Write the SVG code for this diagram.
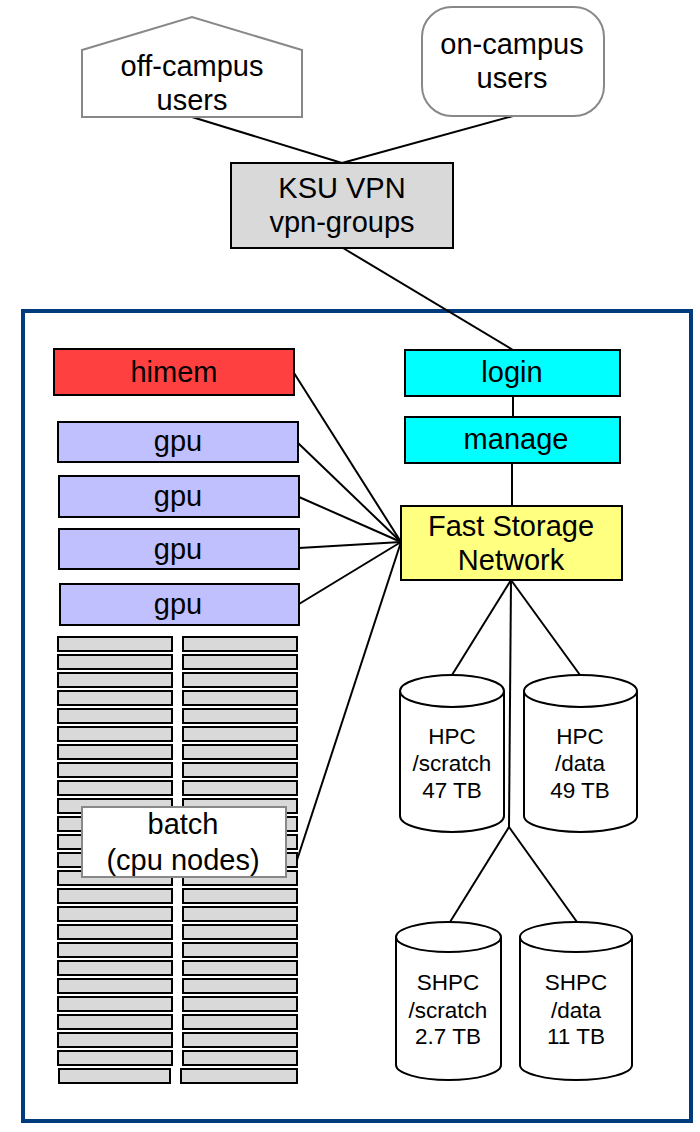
<svg xmlns="http://www.w3.org/2000/svg" width="700" height="1132" viewBox="0 0 700 1132">
<style>
text{font-family:"Liberation Sans",Arial,Helvetica,sans-serif;fill:#000;text-anchor:middle}
.big{font-size:29px}
.sm{font-size:22.5px}
.box{stroke:#000;stroke-width:2}
.gray{fill:#fff;stroke:#888;stroke-width:2}
.rack{fill:#d9d9d9;stroke:#000;stroke-width:2}
.cyl{fill:#fff;stroke:#000;stroke-width:2}
.conn line{stroke:#000;stroke-width:2;fill:none}
</style>
<rect width="700" height="1132" fill="#fff"/>
<rect id="cluster" x="23" y="311" width="668" height="810" fill="#fff" stroke="#003c7d" stroke-width="4"/>
<g id="connectors" class="conn">
<line x1="192" y1="117" x2="342" y2="163"/>
<line x1="513" y1="116" x2="342" y2="163"/>
<line x1="343" y1="248" x2="513" y2="350"/>
<line x1="513" y1="396" x2="513" y2="417"/>
<line x1="512" y1="463" x2="512" y2="506"/>
<line x1="294" y1="373" x2="401" y2="542"/>
<line x1="298" y1="443" x2="401" y2="542"/>
<line x1="299" y1="497" x2="401" y2="542"/>
<line x1="299" y1="548" x2="401" y2="542"/>
<line x1="299" y1="604" x2="401" y2="542"/>
<line x1="297" y1="860" x2="401" y2="542"/>
<line x1="511" y1="580" x2="452" y2="675"/>
<line x1="511" y1="580" x2="580" y2="675"/>
<line x1="511" y1="580" x2="509" y2="827"/>
<line x1="509" y1="827" x2="450" y2="922"/>
<line x1="509" y1="827" x2="577" y2="922"/>
</g>
<g id="off-campus">
<path class="gray" d="M82,50 L192,17 L302,50 L302,117 L82,117 Z"/>
<text class="big" x="192" y="76">off-campus</text>
<text class="big" x="192" y="110">users</text>
</g>
<g id="on-campus">
<rect class="gray" x="422" y="7" width="182" height="109" rx="30"/>
<text class="big" x="512" y="54">on-campus</text>
<text class="big" x="512" y="88">users</text>
</g>
<g id="vpn">
<rect class="box" x="231" y="163" width="222" height="85" fill="#d9d9d9"/>
<text class="big" x="342" y="198">KSU VPN</text>
<text class="big" x="342" y="232">vpn-groups</text>
</g>
<g id="himem">
<rect class="box" x="54" y="349" width="240" height="46" fill="#ff4040"/>
<text class="big" x="174" y="382">himem</text>
</g>
<g id="gpu1">
<rect class="box" x="58" y="422" width="240" height="40" fill="#c0c0ff"/>
<text class="big" x="178" y="451">gpu</text>
</g>
<g id="gpu2">
<rect class="box" x="59" y="476" width="240" height="41" fill="#c0c0ff"/>
<text class="big" x="178" y="506">gpu</text>
</g>
<g id="gpu3">
<rect class="box" x="59" y="529" width="240" height="40" fill="#c0c0ff"/>
<text class="big" x="178" y="559">gpu</text>
</g>
<g id="gpu4">
<rect class="box" x="60" y="584" width="239" height="41" fill="#c0c0ff"/>
<text class="big" x="178" y="614">gpu</text>
</g>
<g id="login">
<rect class="box" x="405" y="350" width="215" height="46" fill="#00ffff"/>
<text class="big" x="512" y="382">login</text>
</g>
<g id="manage">
<rect class="box" x="405" y="417" width="215" height="46" fill="#00ffff"/>
<text class="big" x="516" y="449">manage</text>
</g>
<g id="fast-storage">
<rect class="box" x="401" y="506" width="221" height="74" fill="#ffff80"/>
<text class="big" x="511" y="536">Fast Storage</text>
<text class="big" x="511" y="570">Network</text>
</g>
<g id="batch">
<g id="racks">
<rect class="rack" x="58" y="637" width="114" height="14"/><rect class="rack" x="183" y="637" width="114" height="14"/>
<rect class="rack" x="58" y="655" width="114" height="14"/><rect class="rack" x="183" y="655" width="114" height="14"/>
<rect class="rack" x="58" y="673" width="114" height="14"/><rect class="rack" x="183" y="673" width="114" height="14"/>
<rect class="rack" x="58" y="691" width="114" height="14"/><rect class="rack" x="183" y="691" width="114" height="14"/>
<rect class="rack" x="58" y="709" width="114" height="14"/><rect class="rack" x="183" y="709" width="114" height="14"/>
<rect class="rack" x="58" y="727" width="114" height="14"/><rect class="rack" x="183" y="727" width="114" height="14"/>
<rect class="rack" x="58" y="745" width="114" height="14"/><rect class="rack" x="183" y="745" width="114" height="14"/>
<rect class="rack" x="58" y="763" width="114" height="14"/><rect class="rack" x="183" y="763" width="114" height="14"/>
<rect class="rack" x="58" y="781" width="114" height="14"/><rect class="rack" x="183" y="781" width="114" height="14"/>
<rect class="rack" x="58" y="799" width="114" height="14"/><rect class="rack" x="183" y="799" width="114" height="14"/>
<rect class="rack" x="58" y="817" width="114" height="14"/><rect class="rack" x="183" y="817" width="114" height="14"/>
<rect class="rack" x="58" y="835" width="114" height="14"/><rect class="rack" x="183" y="835" width="114" height="14"/>
<rect class="rack" x="58" y="853" width="114" height="14"/><rect class="rack" x="183" y="853" width="114" height="14"/>
<rect class="rack" x="58" y="871" width="114" height="14"/><rect class="rack" x="183" y="871" width="114" height="14"/>
<rect class="rack" x="58" y="889" width="114" height="14"/><rect class="rack" x="183" y="889" width="114" height="14"/>
<rect class="rack" x="58" y="907" width="114" height="14"/><rect class="rack" x="183" y="907" width="114" height="14"/>
<rect class="rack" x="58" y="925" width="114" height="14"/><rect class="rack" x="183" y="925" width="114" height="14"/>
<rect class="rack" x="58" y="943" width="114" height="14"/><rect class="rack" x="183" y="943" width="114" height="14"/>
<rect class="rack" x="58" y="961" width="114" height="14"/><rect class="rack" x="183" y="961" width="114" height="14"/>
<rect class="rack" x="58" y="979" width="114" height="14"/><rect class="rack" x="183" y="979" width="114" height="14"/>
<rect class="rack" x="58" y="997" width="114" height="14"/><rect class="rack" x="183" y="997" width="114" height="14"/>
<rect class="rack" x="58" y="1015" width="114" height="14"/><rect class="rack" x="183" y="1015" width="114" height="14"/>
<rect class="rack" x="58" y="1033" width="114" height="14"/><rect class="rack" x="183" y="1033" width="114" height="14"/>
<rect class="rack" x="58" y="1051" width="114" height="14"/><rect class="rack" x="183" y="1051" width="114" height="14"/>
<rect class="rack" x="59" y="1069" width="111" height="14"/><rect class="rack" x="181" y="1069" width="116" height="14"/>
</g>
<rect class="gray" x="82" y="807" width="204" height="70"/>
<text class="big" x="183" y="834">batch</text>
<text class="big" x="183" y="870">(cpu nodes)</text>
</g>
<g id="hpc-scratch">
<path class="cyl" d="M400,691 A52,16 0 0,1 504,691 L504,816 A52,16 0 0,1 400,816 Z"/>
<path class="cyl" fill="none" d="M400,691 A52,16 0 0,0 504,691"/>
<text class="sm" x="452" y="744">HPC</text>
<text class="sm" x="452" y="771">/scratch</text>
<text class="sm" x="452" y="798">47 TB</text>
</g>
<g id="hpc-data">
<path class="cyl" d="M524,691 A56.5,16 0 0,1 637,691 L637,816 A56.5,16 0 0,1 524,816 Z"/>
<path class="cyl" fill="none" d="M524,691 A56.5,16 0 0,0 637,691"/>
<text class="sm" x="580" y="744">HPC</text>
<text class="sm" x="580" y="771">/data</text>
<text class="sm" x="580" y="798">49 TB</text>
</g>
<g id="shpc-scratch">
<path class="cyl" d="M396,937 A52.5,15 0 0,1 501,937 L501,1065 A52.5,15 0 0,1 396,1065 Z"/>
<path class="cyl" fill="none" d="M396,937 A52.5,15 0 0,0 501,937"/>
<text class="sm" x="448" y="990">SHPC</text>
<text class="sm" x="448" y="1018">/scratch</text>
<text class="sm" x="448" y="1044">2.7 TB</text>
</g>
<g id="shpc-data">
<path class="cyl" d="M520,937 A56,15 0 0,1 632,937 L632,1065 A56,15 0 0,1 520,1065 Z"/>
<path class="cyl" fill="none" d="M520,937 A56,15 0 0,0 632,937"/>
<text class="sm" x="576" y="990">SHPC</text>
<text class="sm" x="576" y="1018">/data</text>
<text class="sm" x="576" y="1044">11 TB</text>
</g>
</svg>
